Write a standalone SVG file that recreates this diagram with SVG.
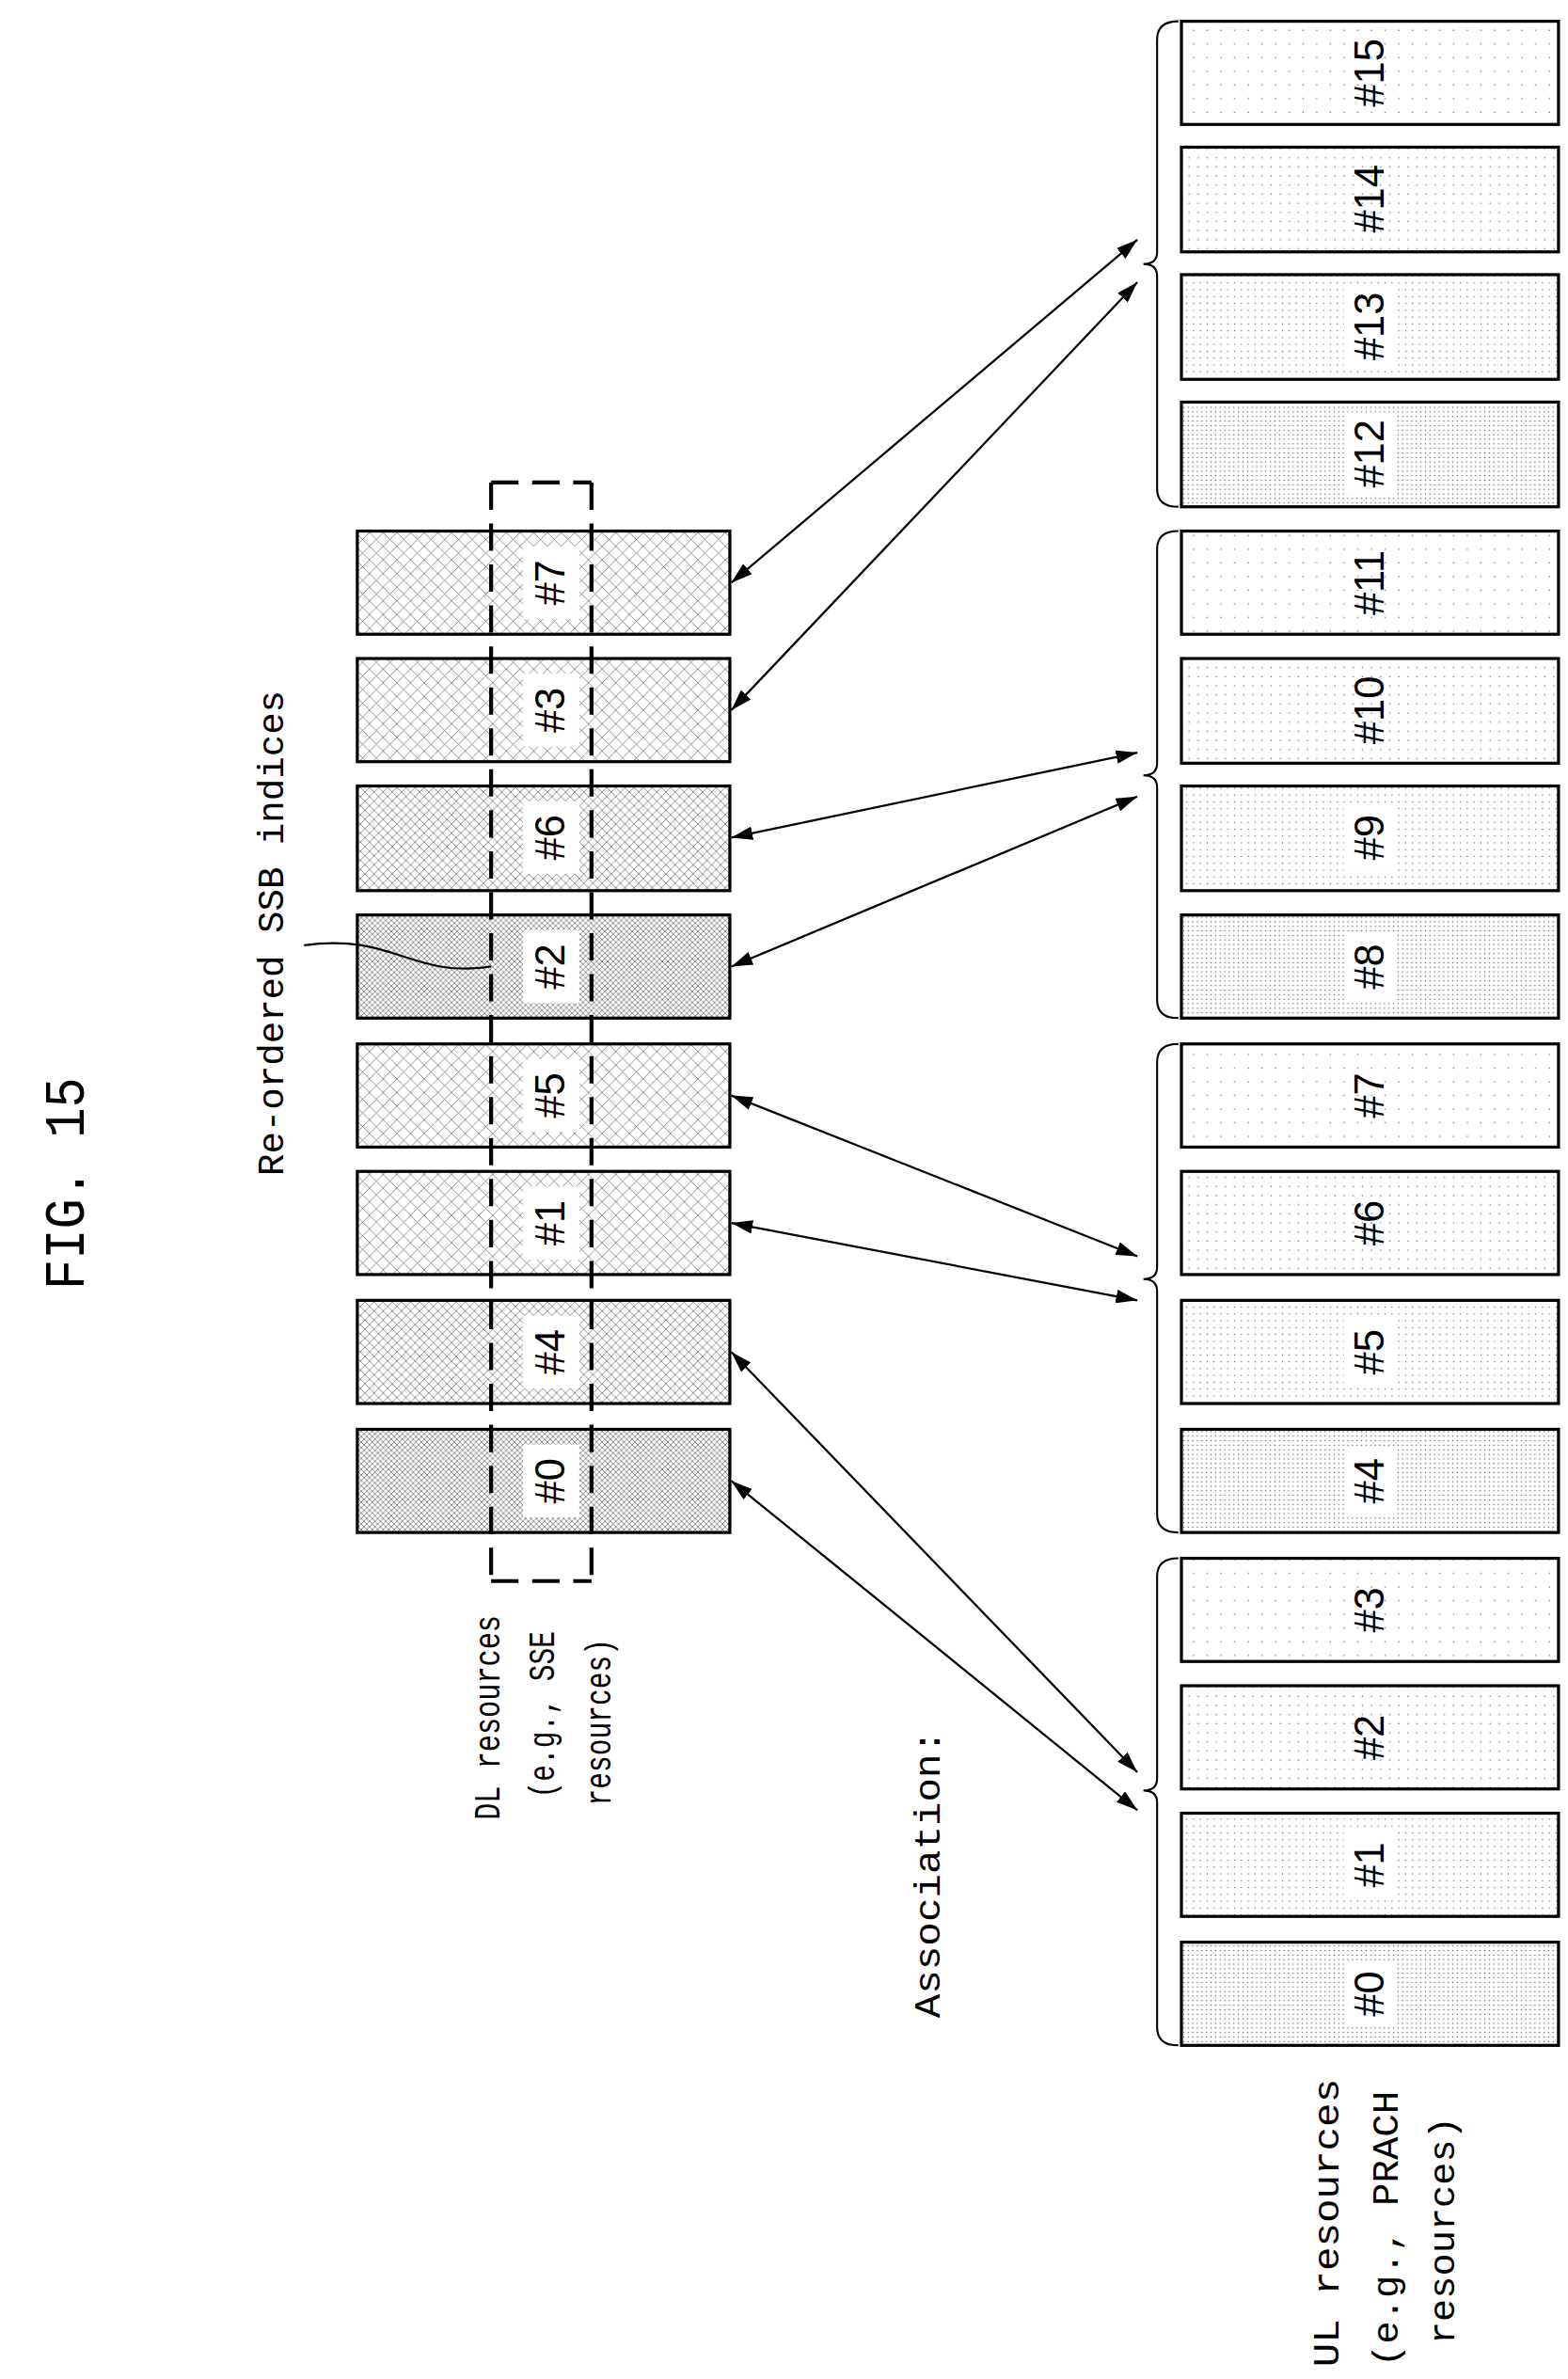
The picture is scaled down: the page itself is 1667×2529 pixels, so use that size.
<svg xmlns="http://www.w3.org/2000/svg" width="1667" height="2529" viewBox="0 0 1667 2529">
<style>
.t{font-family:"Liberation Mono","DejaVu Sans Mono",monospace;fill:#000}
.box{stroke:#000;stroke-width:2}
.n{font-size:27px;font-family:"Liberation Sans","DejaVu Sans",sans-serif}
.lbl{font-size:24px}
.cn{fill:none;stroke:#000;stroke-width:1.4}
.br{fill:none;stroke:#000;stroke-width:1.3}
</style>
<defs>
<marker id="ah" viewBox="0 0 14 9" refX="14" refY="4.5" markerWidth="14" markerHeight="9" markerUnits="userSpaceOnUse" orient="auto-start-reverse"><path d="M0,0L14,4.5L0,9z" fill="#000"/></marker>
<pattern id="x1" width="9" height="9" patternUnits="userSpaceOnUse"><rect width="9" height="9" fill="#fff"/><path d="M0,0L9,9M9,0L0,9" stroke="#666" stroke-width="0.45"/></pattern>
<pattern id="x2" width="6" height="6" patternUnits="userSpaceOnUse"><rect width="6" height="6" fill="#fff"/><path d="M0,0L6,6M6,0L0,6" stroke="#666" stroke-width="0.45"/></pattern>
<pattern id="x3" width="3.6" height="3.6" patternUnits="userSpaceOnUse"><rect width="3.6" height="3.6" fill="#fff"/><path d="M0,0L3.6,3.6M3.6,0L0,3.6" stroke="#666" stroke-width="0.45"/></pattern>
<pattern id="d1" width="9" height="9" patternUnits="userSpaceOnUse"><rect width="9" height="9" fill="#fff"/><circle cx="2" cy="2" r="0.45" fill="#666"/></pattern>
<pattern id="d2" width="6" height="6" patternUnits="userSpaceOnUse"><rect width="6" height="6" fill="#fff"/><circle cx="2" cy="2" r="0.45" fill="#666"/></pattern>
<pattern id="d3" width="4.5" height="4.5" patternUnits="userSpaceOnUse"><rect width="4.5" height="4.5" fill="#fff"/><circle cx="2" cy="2" r="0.45" fill="#666"/></pattern>
<pattern id="d4" width="3" height="3" patternUnits="userSpaceOnUse"><rect width="3" height="3" fill="#fff"/><circle cx="1.5" cy="1.5" r="0.5" fill="#666"/></pattern>
</defs>
<g transform="scale(1.6165,1.613)">
<text class="t" font-size="38" transform="translate(45,780) rotate(-90)" text-anchor="middle" dominant-baseline="central" textLength="140" lengthAdjust="spacingAndGlyphs">FIG. 15</text>
<text class="t lbl" transform="translate(180,615) rotate(-90)" text-anchor="middle" dominant-baseline="central" textLength="320" lengthAdjust="spacingAndGlyphs">Re-ordered SSB indices</text>
<text class="t lbl" transform="translate(322,1132) rotate(-90)" text-anchor="middle" dominant-baseline="central" textLength="135" lengthAdjust="spacingAndGlyphs">DL resources</text>
<text class="t lbl" transform="translate(358,1130) rotate(-90)" text-anchor="middle" dominant-baseline="central" textLength="110" lengthAdjust="spacingAndGlyphs">(e.g., SSE</text>
<text class="t lbl" transform="translate(395,1135) rotate(-90)" text-anchor="middle" dominant-baseline="central" textLength="110" lengthAdjust="spacingAndGlyphs">resources)</text>
<text class="t lbl" transform="translate(612,1235) rotate(-90)" text-anchor="middle" dominant-baseline="central" textLength="190" lengthAdjust="spacingAndGlyphs">Association:</text>
<text class="t lbl" transform="translate(874,1465) rotate(-90)" text-anchor="middle" dominant-baseline="central" textLength="190" lengthAdjust="spacingAndGlyphs">UL resources</text>
<text class="t lbl" transform="translate(913,1469) rotate(-90)" text-anchor="middle" dominant-baseline="central" textLength="182" lengthAdjust="spacingAndGlyphs">(e.g., PRACH</text>
<text class="t lbl" transform="translate(950,1470) rotate(-90)" text-anchor="middle" dominant-baseline="central" textLength="150" lengthAdjust="spacingAndGlyphs">resources)</text>

<g id="dl7"><rect class="box" x="235" y="350" width="245" height="68" fill="url(#x1)"/><rect x="344" y="360" width="37" height="48" fill="#fff"/><text class="t n" transform="translate(362,384) rotate(-90)" text-anchor="middle" dominant-baseline="central">#7</text></g>
<g id="dl3"><rect class="box" x="235" y="434" width="245" height="68" fill="url(#x1)"/><rect x="344" y="444" width="37" height="48" fill="#fff"/><text class="t n" transform="translate(362,468) rotate(-90)" text-anchor="middle" dominant-baseline="central">#3</text></g>
<g id="dl6"><rect class="box" x="235" y="518" width="245" height="69" fill="url(#x2)"/><rect x="344" y="528" width="37" height="48" fill="#fff"/><text class="t n" transform="translate(362,552) rotate(-90)" text-anchor="middle" dominant-baseline="central">#6</text></g>
<g id="dl2"><rect class="box" x="235" y="603" width="245" height="68" fill="url(#x3)"/><rect x="344" y="613" width="37" height="48" fill="#fff"/><text class="t n" transform="translate(362,637) rotate(-90)" text-anchor="middle" dominant-baseline="central">#2</text></g>
<g id="dl5"><rect class="box" x="235" y="688" width="245" height="68" fill="url(#x1)"/><rect x="344" y="698" width="37" height="48" fill="#fff"/><text class="t n" transform="translate(362,722) rotate(-90)" text-anchor="middle" dominant-baseline="central">#5</text></g>
<g id="dl1"><rect class="box" x="235" y="772" width="245" height="68" fill="url(#x1)"/><rect x="344" y="782" width="37" height="48" fill="#fff"/><text class="t n" transform="translate(362,806) rotate(-90)" text-anchor="middle" dominant-baseline="central">#1</text></g>
<g id="dl4"><rect class="box" x="235" y="857" width="245" height="68" fill="url(#x2)"/><rect x="344" y="867" width="37" height="48" fill="#fff"/><text class="t n" transform="translate(362,891) rotate(-90)" text-anchor="middle" dominant-baseline="central">#4</text></g>
<g id="dl0"><rect class="box" x="235" y="942" width="245" height="68" fill="url(#x3)"/><rect x="344" y="952" width="37" height="48" fill="#fff"/><text class="t n" transform="translate(362,976) rotate(-90)" text-anchor="middle" dominant-baseline="central">#0</text></g>
<g id="dlbracket" fill="none" stroke="#000" stroke-width="2.6" stroke-dasharray="18,9"><path d="M323,318H389M323,1042H389M323,318V1042M389,318V1042"/></g>

<g id="ul15"><rect class="box" x="777" y="14" width="248" height="68" fill="url(#d1)"/><text class="t n" transform="translate(901,48) rotate(-90)" text-anchor="middle" dominant-baseline="central">#15</text></g>
<g id="ul14"><rect class="box" x="777" y="97" width="248" height="69" fill="url(#d2)"/><text class="t n" transform="translate(901,131) rotate(-90)" text-anchor="middle" dominant-baseline="central">#14</text></g>
<g id="ul13"><rect class="box" x="777" y="181" width="248" height="69" fill="url(#d3)"/><rect x="884" y="188" width="34" height="54" fill="#fff"/><text class="t n" transform="translate(901,215) rotate(-90)" text-anchor="middle" dominant-baseline="central">#13</text></g>
<g id="ul12"><rect class="box" x="777" y="265" width="248" height="69" fill="url(#d4)"/><rect x="884" y="272" width="34" height="54" fill="#fff"/><text class="t n" transform="translate(901,299) rotate(-90)" text-anchor="middle" dominant-baseline="central">#12</text></g>
<g id="ul11"><rect class="box" x="777" y="350" width="248" height="68" fill="url(#d1)"/><text class="t n" transform="translate(901,384) rotate(-90)" text-anchor="middle" dominant-baseline="central">#11</text></g>
<g id="ul10"><rect class="box" x="777" y="434" width="248" height="69" fill="url(#d2)"/><text class="t n" transform="translate(901,468) rotate(-90)" text-anchor="middle" dominant-baseline="central">#10</text></g>
<g id="ul9"><rect class="box" x="777" y="518" width="248" height="69" fill="url(#d3)"/><rect x="884" y="530" width="34" height="44" fill="#fff"/><text class="t n" transform="translate(901,552) rotate(-90)" text-anchor="middle" dominant-baseline="central">#9</text></g>
<g id="ul8"><rect class="box" x="777" y="603" width="248" height="68" fill="url(#d4)"/><rect x="884" y="615" width="34" height="44" fill="#fff"/><text class="t n" transform="translate(901,637) rotate(-90)" text-anchor="middle" dominant-baseline="central">#8</text></g>
<g id="ul7"><rect class="box" x="777" y="688" width="248" height="68" fill="url(#d1)"/><text class="t n" transform="translate(901,722) rotate(-90)" text-anchor="middle" dominant-baseline="central">#7</text></g>
<g id="ul6"><rect class="box" x="777" y="772" width="248" height="68" fill="url(#d2)"/><text class="t n" transform="translate(901,806) rotate(-90)" text-anchor="middle" dominant-baseline="central">#6</text></g>
<g id="ul5"><rect class="box" x="777" y="857" width="248" height="68" fill="url(#d3)"/><rect x="884" y="869" width="34" height="44" fill="#fff"/><text class="t n" transform="translate(901,891) rotate(-90)" text-anchor="middle" dominant-baseline="central">#5</text></g>
<g id="ul4"><rect class="box" x="777" y="942" width="248" height="68" fill="url(#d4)"/><rect x="884" y="954" width="34" height="44" fill="#fff"/><text class="t n" transform="translate(901,976) rotate(-90)" text-anchor="middle" dominant-baseline="central">#4</text></g>
<g id="ul3"><rect class="box" x="777" y="1027" width="248" height="68" fill="url(#d1)"/><text class="t n" transform="translate(901,1061) rotate(-90)" text-anchor="middle" dominant-baseline="central">#3</text></g>
<g id="ul2"><rect class="box" x="777" y="1111" width="248" height="68" fill="url(#d2)"/><text class="t n" transform="translate(901,1145) rotate(-90)" text-anchor="middle" dominant-baseline="central">#2</text></g>
<g id="ul1"><rect class="box" x="777" y="1195" width="248" height="68" fill="url(#d3)"/><rect x="884" y="1207" width="34" height="44" fill="#fff"/><text class="t n" transform="translate(901,1229) rotate(-90)" text-anchor="middle" dominant-baseline="central">#1</text></g>
<g id="ul0"><rect class="box" x="777" y="1280" width="248" height="68" fill="url(#d4)"/><rect x="884" y="1292" width="34" height="44" fill="#fff"/><text class="t n" transform="translate(901,1314) rotate(-90)" text-anchor="middle" dominant-baseline="central">#0</text></g>

<g id="braces">
<path class="br" d="M775,14Q761,14 761,26L761,166Q761,174 752,174Q761,174 761,182L761,322Q761,334 775,334"/>
<path class="br" d="M775,350Q761,350 761,362L761,503Q761,511 752,511Q761,511 761,519L761,659Q761,671 775,671"/>
<path class="br" d="M775,688Q761,688 761,700L761,835Q761,843 752,843Q761,843 761,851L761,998Q761,1010 775,1010"/>
<path class="br" d="M775,1027Q761,1027 761,1039L761,1172Q761,1180 752,1180Q761,1180 761,1188L761,1336Q761,1348 775,1348"/>
</g>

<g id="connectors">
<path class="cn" d="M200,623C260,615 270,645 323,637"/>
<line class="cn" x1="481" y1="384" x2="748" y2="158" marker-start="url(#ah)" marker-end="url(#ah)"/>
<line class="cn" x1="481" y1="468" x2="748" y2="186" marker-start="url(#ah)" marker-end="url(#ah)"/>
<line class="cn" x1="481" y1="552" x2="748" y2="496" marker-start="url(#ah)" marker-end="url(#ah)"/>
<line class="cn" x1="481" y1="637" x2="748" y2="525" marker-start="url(#ah)" marker-end="url(#ah)"/>
<line class="cn" x1="481" y1="722" x2="748" y2="828" marker-start="url(#ah)" marker-end="url(#ah)"/>
<line class="cn" x1="481" y1="806" x2="748" y2="857" marker-start="url(#ah)" marker-end="url(#ah)"/>
<line class="cn" x1="481" y1="891" x2="748" y2="1168" marker-start="url(#ah)" marker-end="url(#ah)"/>
<line class="cn" x1="481" y1="976" x2="748" y2="1193" marker-start="url(#ah)" marker-end="url(#ah)"/>
</g>
</g>
</svg>
